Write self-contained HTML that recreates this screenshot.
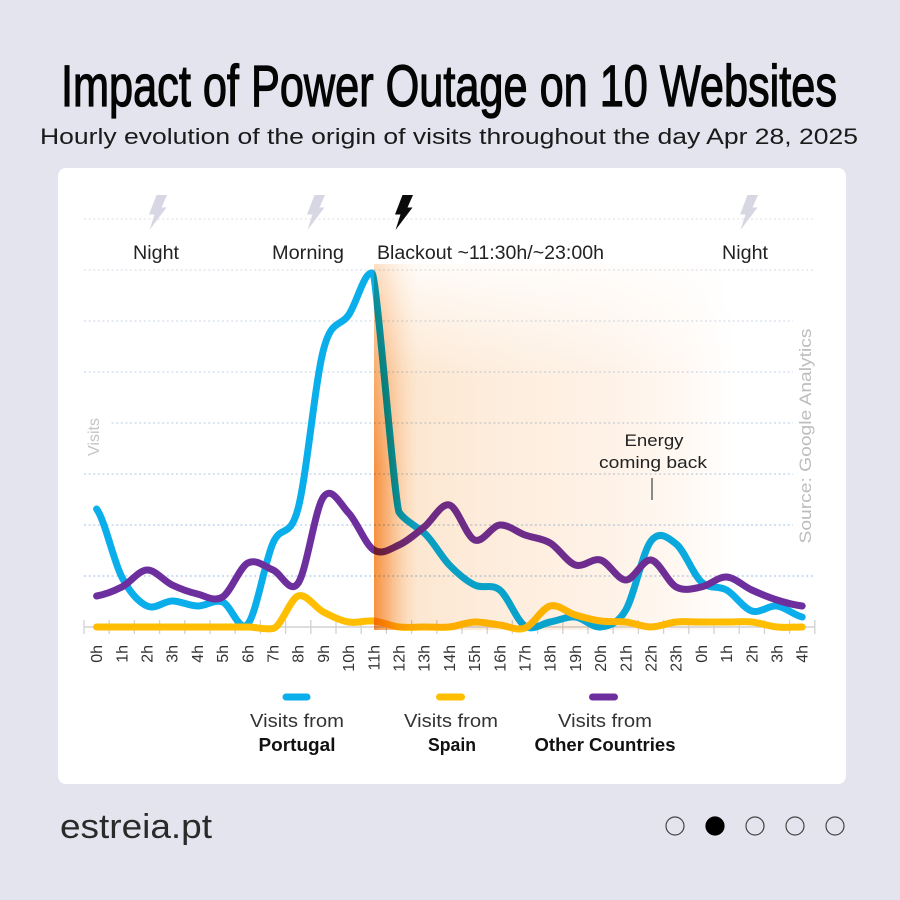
<!DOCTYPE html>
<html><head><meta charset="utf-8"><style>
html,body{margin:0;padding:0;background:#E3E4EE;}
svg{display:block;}
text{font-family:"Liberation Sans","DejaVu Sans",sans-serif;}
</style></head><body>
<svg width="900" height="900" viewBox="0 0 900 900" xmlns="http://www.w3.org/2000/svg">
<defs>
  <linearGradient id="stripeH" x1="374" y1="0" x2="418" y2="0" gradientUnits="userSpaceOnUse">
    <stop offset="0" stop-color="#F8993F" stop-opacity="0.92"/>
    <stop offset="0.3" stop-color="#FAAD66" stop-opacity="0.7"/>
    <stop offset="1" stop-color="#FDE3C8" stop-opacity="0"/>
  </linearGradient>
  <linearGradient id="vfade" x1="0" y1="266" x2="0" y2="470" gradientUnits="userSpaceOnUse">
    <stop offset="0" stop-color="#fff" stop-opacity="0.3"/>
    <stop offset="1" stop-color="#fff" stop-opacity="1"/>
  </linearGradient>
  <mask id="m1" maskUnits="userSpaceOnUse" x="370" y="260" width="60" height="375">
    <rect x="370" y="260" width="60" height="375" fill="url(#vfade)"/>
  </mask>
  <linearGradient id="creamH" x1="374" y1="0" x2="735" y2="0" gradientUnits="userSpaceOnUse">
    <stop offset="0" stop-color="#FCE4CA"/>
    <stop offset="0.3" stop-color="#FDECDB"/>
    <stop offset="0.65" stop-color="#FEF2E7"/>
    <stop offset="0.85" stop-color="#FFF8F2"/>
    <stop offset="1" stop-color="#FFFFFF"/>
  </linearGradient>
  <linearGradient id="vfade2" x1="0" y1="262" x2="0" y2="380" gradientUnits="userSpaceOnUse">
    <stop offset="0" stop-color="#fff" stop-opacity="0.15"/>
    <stop offset="1" stop-color="#fff" stop-opacity="1"/>
  </linearGradient>
  <mask id="m2" maskUnits="userSpaceOnUse" x="370" y="260" width="450" height="375">
    <rect x="370" y="260" width="450" height="375" fill="url(#vfade2)"/>
  </mask>
</defs>

<rect x="0" y="0" width="900" height="900" fill="#E3E4EE"/>

<!-- Title -->
<text x="61" y="106" font-size="58" fill="#050505" stroke="#050505" stroke-width="1.3" textLength="776" lengthAdjust="spacingAndGlyphs">Impact of Power Outage on 10 Websites</text>
<text x="40" y="144" font-size="22" fill="#1a1a1a" textLength="818" lengthAdjust="spacingAndGlyphs">Hourly evolution of the origin of visits throughout the day Apr 28, 2025</text>

<!-- Card -->
<rect x="58" y="168" width="788" height="616" rx="8" fill="#FFFFFF"/>

<!-- Gridlines -->
<g stroke-width="1.6" stroke-dasharray="2 2.6" fill="none">
  <line x1="84" y1="219" x2="815" y2="219" stroke="#E6E9EE"/>
  <line x1="84" y1="270" x2="815" y2="270" stroke="#E2E7EE"/>
  <line x1="84" y1="321" x2="815" y2="321" stroke="#DCE4EE"/>
  <line x1="84" y1="372" x2="815" y2="372" stroke="#D6E1EE"/>
  <line x1="84" y1="423" x2="815" y2="423" stroke="#D0DDEC"/>
  <line x1="84" y1="474" x2="815" y2="474" stroke="#CBDAEB"/>
  <line x1="84" y1="525" x2="815" y2="525" stroke="#C2D5EA"/>
  <line x1="84" y1="576" x2="815" y2="576" stroke="#BDD2EA"/>
</g>
<rect x="793" y="314" width="24" height="236" fill="#FFFFFF"/>
<rect x="84" y="405" width="26" height="60" fill="#FFFFFF"/>

<!-- Axis -->
<line x1="84" y1="627" x2="815" y2="627" stroke="#D2D2D2" stroke-width="1.5"/>
<path stroke="#D2D2D2" stroke-width="1.3" fill="none" d="M84 620V634M109.2 620V634M134.4 620V634M159.6 620V634M184.8 620V634M210 620V634M235.2 620V634M260.4 620V634M285.6 620V634M310.8 620V634M336 620V634M361.2 620V634M386.4 620V634M411.6 620V634M436.8 620V634M462 620V634M487.2 620V634M512.4 620V634M537.6 620V634M562.8 620V634M588 620V634M613.2 620V634M638.4 620V634M663.6 620V634M688.8 620V634M714 620V634M739.2 620V634M764.4 620V634M789.6 620V634M814.8 620V634"/>

<!-- Series -->
<g fill="none" stroke-width="7" stroke-linecap="round" stroke-linejoin="round">
  <path stroke="#0AAEEA" d="M96.6 509 C105 520.3 113.4 560.8 121.8 577 S138.6 602 147 606 S163.8 601 172.2 601 S189 605.8 197.4 606 S214.2 599 222.6 602 S239.4 633.8 247.8 624 S264.6 562.3 273 543 S289.8 540.2 298.2 508 S315 382.2 323.4 350 S340.2 327.5 348.6 315 S364 272 372 273 C377 276 394 500 399 512 C404 520 416 526 424.2 533 S441 556.3 449.4 565 S466.2 580.8 474.6 585 S491.4 583.2 499.8 590 S516.6 620.7 525 626 S541.8 623.5 550.2 622 S567 616.2 575.4 617 S592.2 628.2 600.6 627 S617.4 624.3 625.8 610 S642.6 551.8 651 541 S667.8 537.2 676.2 544 S693 574.3 701.4 582 S718.2 585.2 726.6 590 S743.4 608.3 751.8 611 S768.6 605 777 606 S793.8 615.2 802.2 617"/>
  <path stroke="#FFBE00" d="M96.6 627 L247.8 627 C256.2 627 264.6 630 273 628.5 C281.4 627 289.8 598.8 298.2 596 S315 607.7 323.4 612 S340.2 620.5 348.6 622 S365.4 620.2 373.8 621 S390.6 626 399 627 S415.8 627 424.2 627 S441 627.8 449.4 627 S466.2 622.3 474.6 622 S491.4 624 499.8 625 S516.6 631.2 525 628 S541.8 608.2 550.2 606 S567 612.5 575.4 615 S592.2 619.8 600.6 621 S617.4 621 625.8 622 S642.6 627 651 627 S667.8 622.8 676.2 622 S693 622 701.4 622 S718.2 622 726.6 622 S743.4 621.2 751.8 622 S768.6 626.2 777 627 S793.8 627 802.2 627"/>
  <path stroke="#6E2F9E" d="M96.6 596 C105 594.5 113.4 591.3 121.8 587 S138.6 570.3 147 570 S163.8 581 172.2 585 S189 592 197.4 594 S214.2 602.2 222.6 597 S239.4 567.5 247.8 563 S264.6 566.7 273 570 S289.8 595.2 298.2 583 S315 508.7 323.4 497 S340.2 504.2 348.6 513 S365.4 544.7 373.8 550 S390.6 548.8 399 545 S415.8 533.7 424.2 527 S441 502.8 449.4 505 S466.2 536.7 474.6 540 S491.4 525.8 499.8 525 S516.6 532 525 535 S541.8 538 550.2 543 S567 562.2 575.4 565 S592.2 557.5 600.6 560 S617.4 580 625.8 580 S642.6 558.8 651 560 S667.8 582.5 676.2 587 S693 588.7 701.4 587 S718.2 576.5 726.6 577 S743.4 586.2 751.8 590 S768.6 597.3 777 600 S793.8 605 802.2 606"/>
</g>

<!-- Blackout overlay -->
<g mask="url(#m2)" style="mix-blend-mode:multiply">
  <rect x="374" y="264" width="441" height="366" fill="url(#creamH)"/>
</g>
<g mask="url(#m1)" style="mix-blend-mode:multiply">
  <rect x="374" y="264" width="46" height="366" fill="url(#stripeH)"/>
</g>

<!-- X labels -->
<g font-size="16" fill="#333" text-anchor="end">
  <text transform="translate(102.1 645) rotate(-90)">0h</text>
  <text transform="translate(127.3 645) rotate(-90)">1h</text>
  <text transform="translate(152.5 645) rotate(-90)">2h</text>
  <text transform="translate(177.7 645) rotate(-90)">3h</text>
  <text transform="translate(202.9 645) rotate(-90)">4h</text>
  <text transform="translate(228.1 645) rotate(-90)">5h</text>
  <text transform="translate(253.3 645) rotate(-90)">6h</text>
  <text transform="translate(278.5 645) rotate(-90)">7h</text>
  <text transform="translate(303.7 645) rotate(-90)">8h</text>
  <text transform="translate(328.9 645) rotate(-90)">9h</text>
  <text transform="translate(354.1 645) rotate(-90)">10h</text>
  <text transform="translate(379.3 645) rotate(-90)">11h</text>
  <text transform="translate(404.5 645) rotate(-90)">12h</text>
  <text transform="translate(429.7 645) rotate(-90)">13h</text>
  <text transform="translate(454.9 645) rotate(-90)">14h</text>
  <text transform="translate(480.1 645) rotate(-90)">15h</text>
  <text transform="translate(505.3 645) rotate(-90)">16h</text>
  <text transform="translate(530.5 645) rotate(-90)">17h</text>
  <text transform="translate(555.7 645) rotate(-90)">18h</text>
  <text transform="translate(580.9 645) rotate(-90)">19h</text>
  <text transform="translate(606.1 645) rotate(-90)">20h</text>
  <text transform="translate(631.3 645) rotate(-90)">21h</text>
  <text transform="translate(656.5 645) rotate(-90)">22h</text>
  <text transform="translate(681.7 645) rotate(-90)">23h</text>
  <text transform="translate(706.9 645) rotate(-90)">0h</text>
  <text transform="translate(732.1 645) rotate(-90)">1h</text>
  <text transform="translate(757.3 645) rotate(-90)">2h</text>
  <text transform="translate(782.5 645) rotate(-90)">3h</text>
  <text transform="translate(807.7 645) rotate(-90)">4h</text>
</g>

<!-- Axis titles -->
<text transform="translate(99 437) rotate(-90)" font-size="16" fill="#C4C4C4" text-anchor="middle">Visits</text>
<text transform="translate(811 436) rotate(-90)" font-size="17" fill="#BDBDBD" text-anchor="middle" textLength="215" lengthAdjust="spacingAndGlyphs">Source: Google Analytics</text>

<!-- Top bolts & labels -->
<g>
  <path transform="translate(147 195)" fill="#D6D7E2" d="M9.5 0 H20 L14.5 12.5 H19.5 L2.5 35 L7.5 19.5 H2 Z"/>
  <path transform="translate(305 195)" fill="#D6D7E2" d="M9.5 0 H20 L14.5 12.5 H19.5 L2.5 35 L7.5 19.5 H2 Z"/>
  <path transform="translate(393 195)" fill="#0A0A0A" d="M9.5 0 H20 L14.5 12.5 H19.5 L2.5 35 L7.5 19.5 H2 Z"/>
  <path transform="translate(738 195)" fill="#D6D7E2" d="M9.5 0 H20 L14.5 12.5 H19.5 L2.5 35 L7.5 19.5 H2 Z"/>
</g>
<g font-size="19" fill="#222">
  <text x="156" y="259" text-anchor="middle" textLength="46" lengthAdjust="spacingAndGlyphs">Night</text>
  <text x="308" y="259" text-anchor="middle" textLength="72" lengthAdjust="spacingAndGlyphs">Morning</text>
  <text x="377" y="259" textLength="227" lengthAdjust="spacingAndGlyphs">Blackout ~11:30h/~23:00h</text>
  <text x="745" y="259" text-anchor="middle" textLength="46" lengthAdjust="spacingAndGlyphs">Night</text>
</g>

<!-- Energy annotation -->
<g font-size="17" fill="#222" text-anchor="middle">
  <text x="654" y="446" textLength="59" lengthAdjust="spacingAndGlyphs">Energy</text>
  <text x="653" y="468" textLength="108" lengthAdjust="spacingAndGlyphs">coming back</text>
</g>
<line x1="652" y1="478" x2="652" y2="500" stroke="#8A8A8A" stroke-width="2"/>

<!-- Legend -->
<g stroke-width="7" stroke-linecap="round">
  <line x1="286" y1="697" x2="307" y2="697" stroke="#0AAEEA"/>
  <line x1="439.5" y1="697" x2="461.5" y2="697" stroke="#FFBE00"/>
  <line x1="592.5" y1="697" x2="614.5" y2="697" stroke="#6E2F9E"/>
</g>
<g font-size="18" text-anchor="middle">
  <text x="297" y="727" fill="#333" textLength="94" lengthAdjust="spacingAndGlyphs">Visits from</text>
  <text x="297" y="751" fill="#111" font-weight="bold" textLength="77" lengthAdjust="spacingAndGlyphs">Portugal</text>
  <text x="451" y="727" fill="#333" textLength="94" lengthAdjust="spacingAndGlyphs">Visits from</text>
  <text x="452" y="751" fill="#111" font-weight="bold" textLength="48" lengthAdjust="spacingAndGlyphs">Spain</text>
  <text x="605" y="727" fill="#333" textLength="94" lengthAdjust="spacingAndGlyphs">Visits from</text>
  <text x="605" y="751" fill="#111" font-weight="bold" textLength="141" lengthAdjust="spacingAndGlyphs">Other Countries</text>
</g>

<!-- Footer -->
<text x="60" y="838" font-size="34" fill="#2a2a2a" textLength="152" lengthAdjust="spacingAndGlyphs">estreia.pt</text>
<g stroke="#444" stroke-width="1.2" fill="none">
  <circle cx="675" cy="826" r="9"/>
  <circle cx="715" cy="826" r="9" fill="#000" stroke="#000"/>
  <circle cx="755" cy="826" r="9"/>
  <circle cx="795" cy="826" r="9"/>
  <circle cx="835" cy="826" r="9"/>
</g>
</svg>
</body></html>
